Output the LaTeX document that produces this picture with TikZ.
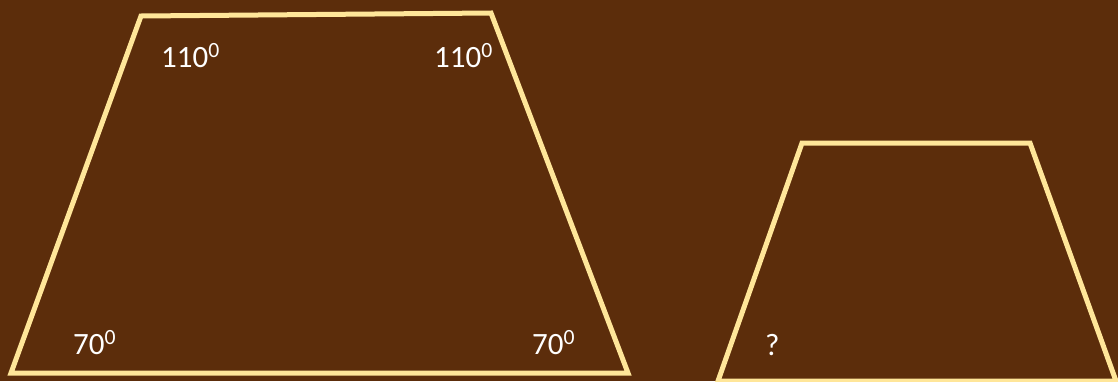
\documentclass[tikz,border=0pt]{standalone}
\usepackage{fontspec}
\setmainfont{Carlito}
\usetikzlibrary{positioning}
\definecolor{bgbrown}{HTML}{5C2D0B}
\definecolor{edgegold}{HTML}{FFE699}

\begin{document}
\begin{tikzpicture}[x=1pt, y=-1pt,
  side/.style={draw=edgegold, line width=5pt, line join=miter},
  angle/.style={anchor=base west, inner sep=0pt, text=white, font=\fontsize{31}{36}\selectfont}]
\fill[bgbrown] (0,0) rectangle (1118,381);
\useasboundingbox (0,0) rectangle (1118,381);
% big trapezoid
\coordinate (BL) at (11,373);
\coordinate (TL) at (141,16);
\coordinate (TR) at (491,13);
\coordinate (BR) at (628,373);
\draw[side] (BL) -- (TL) -- (TR) -- (BR) -- cycle;
% small trapezoid
\coordinate (bl) at (718,381);
\coordinate (tl) at (802,143);
\coordinate (tr) at (1030,143);
\coordinate (br) at (1116,381);
\draw[side] (bl) -- (tl) -- (tr) -- (br) -- cycle;
% angles
\node[angle] (aTL) at (161,67) {110\textsuperscript{0}};
\node[angle] (aTR) at (434,67) {110\textsuperscript{0}};
\node[angle] (aBL) at (73,354) {70\textsuperscript{0}};
\node[angle] (aBR) at (532,354) {70\textsuperscript{0}};
\node[angle] (q) at (765,355) {?};
\end{tikzpicture}
\end{document}
